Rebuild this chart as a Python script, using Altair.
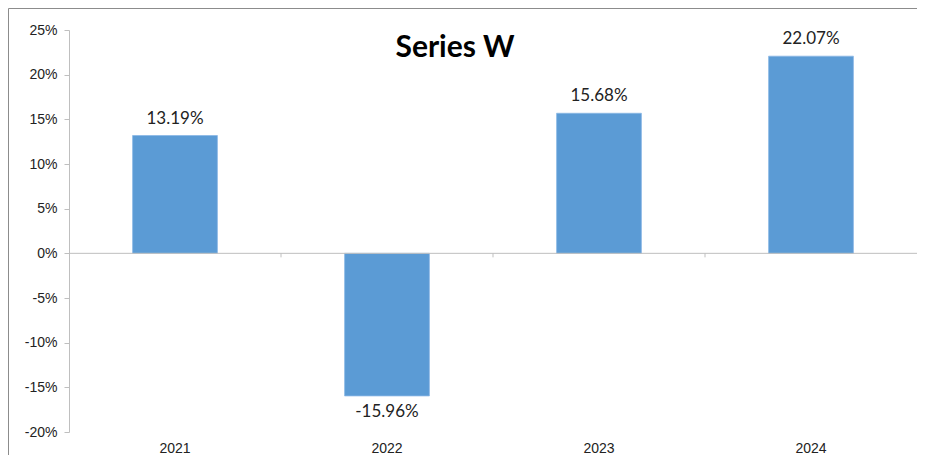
import altair as alt
import pandas as pd

years = ["2021", "2022", "2023", "2024"]
values = [0.1319, -0.1596, 0.1568, 0.2207]
y_ticks = [-0.20, -0.15, -0.10, -0.05, 0.0, 0.05, 0.10, 0.15, 0.20, 0.25]
title_text = "Series W"

df = pd.DataFrame({"year": years, "value": values})
df["label"] = [f"{v * 100:.2f}%" for v in values]

W, H = 848, 402
ydom = [-0.20, 0.25]
step = W / 4

xscale = alt.Scale(domain=years, paddingInner=0.6, paddingOuter=0.3)
yscale = alt.Scale(domain=ydom, nice=False, zero=False)

base = alt.Chart(df)

bars = base.mark_bar(color="#5b9bd5", stroke="#8ab8e6", strokeWidth=0.8).encode(
    x=alt.X("year:N", scale=xscale, sort=years,
            axis=alt.Axis(title=None, domain=False, ticks=False, labelAngle=0,
                          bandPosition=0.5, labelAlign="center",
                          labelFont="Liberation Sans", labelFontSize=14,
                          labelColor="#222222", labelPadding=9)),
    y=alt.Y("value:Q", scale=yscale,
            axis=alt.Axis(title=None, values=y_ticks, grid=False,
                          labelExpr="replace(format(datum.value, '.0%'), '\u2212', '-')",
                          domainColor="#bfbfbf", tickColor="#bfbfbf", tickSize=5,
                          labelFont="Liberation Sans", labelFontSize=14,
                          labelColor="#222222", labelPadding=7)),
)

zero_line = alt.Chart(pd.DataFrame({"z": [0.0]})).mark_rule(color="#bfbfbf", strokeWidth=1).encode(
    y=alt.Y("z:Q", scale=yscale),
    x=alt.value(0), x2=alt.value(W),
)

tick_df = pd.DataFrame({"year": years[1:], "a": [0.0] * 3, "b": [-0.0045] * 3})
ticks = alt.Chart(tick_df).mark_rule(color="#bfbfbf", strokeWidth=1, xOffset=-step / 2).encode(
    x=alt.X("year:N", scale=xscale),
    y=alt.Y("a:Q", scale=yscale),
    y2="b:Q",
)

lab_top = base.transform_filter("datum.value >= 0").mark_text(
    baseline="bottom", dy=-8, font="Lato", fontSize=17, color="#222222"
).encode(x=alt.X("year:N", scale=xscale), y=alt.Y("value:Q", scale=yscale), text="label:N")

lab_bot = base.transform_filter("datum.value < 0").mark_text(
    baseline="top", dy=8, font="Lato", fontSize=17, color="#222222"
).encode(x=alt.X("year:N", scale=xscale), y=alt.Y("value:Q", scale=yscale), text="label:N")

title = alt.Chart(pd.DataFrame({"t": [title_text]})).mark_text(
    font="Lato", fontSize=30, fontWeight="bold", color="#000000", baseline="middle", align="center"
).encode(x=alt.value(386), y=alt.value(18), text="t:N")

one = pd.DataFrame({"t": [1]})
border_top = alt.Chart(one).mark_rule(color="#8c8c8c", strokeWidth=1, clip=False).encode(
    x=alt.value(-60.5), x2=alt.value(W + 20), y=alt.value(-21.5))
border_left = alt.Chart(one).mark_rule(color="#8c8c8c", strokeWidth=1, clip=False).encode(
    x=alt.value(-60.5), y=alt.value(-21.5), y2=alt.value(H + 40))

chart = alt.layer(bars, border_top, border_left, zero_line, ticks, lab_top, lab_bot, title).properties(
    width=W, height=H,
    autosize=alt.AutoSizeParams(type="none"),
    padding={"left": 61, "top": 22, "right": 0, "bottom": 23},
).configure_view(strokeWidth=0, stroke=None)

chart.save("out.html", embed_options={"renderer": "svg", "actions": False})
